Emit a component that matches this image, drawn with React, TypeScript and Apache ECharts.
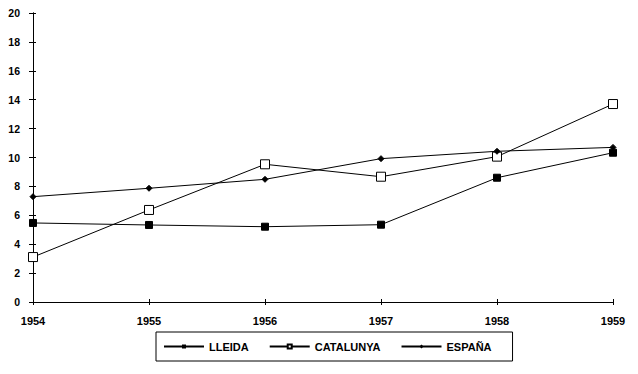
import React, { useEffect, useRef } from "react";
import * as echarts from "echarts";

const years = ["1954", "1955", "1956", "1957", "1958", "1959"];
const lleida = [5.47, 5.33, 5.21, 5.35, 8.6, 10.33];
const catalunya = [3.11, 6.37, 9.53, 8.67, 10.06, 13.7];
const espana = [7.29, 7.87, 8.49, 9.92, 10.43, 10.7];

const FONT = "Liberation Sans";

export default function App() {
  const ref = useRef<HTMLDivElement>(null);
  useEffect(() => {
    if (!ref.current) return;
    const chart = echarts.init(ref.current, null, { renderer: "svg" });
    const labelStyle = { color: "#000", fontFamily: FONT, fontWeight: "bold" as const, fontSize: 11 };
    const baseY = {
      type: "value" as const,
      min: 0,
      max: 20,
      interval: 2,
      splitLine: { show: false },
      axisLine: { show: true, lineStyle: { color: "#000", width: 1 } },
    };
    const baseX = {
      type: "category" as const,
      data: years,
      boundaryGap: false,
      axisLine: { show: true, onZero: false, lineStyle: { color: "#000", width: 1 } },
      splitLine: { show: false },
    };
    chart.setOption({
      animation: false,
      backgroundColor: "#fff",
      grid: { left: 33, right: 25, top: 13, bottom: 72 },
      xAxis: [
        {
          ...baseX,
          axisTick: { show: true, length: 3, lineStyle: { color: "#000" } },
          axisLabel: { ...labelStyle, margin: 13 },
        },
        {
          ...baseX,
          position: "bottom",
          axisTick: { show: true, inside: true, length: 3, lineStyle: { color: "#000" } },
          axisLabel: { show: false },
        },
      ],
      yAxis: [
        {
          ...baseY,
          axisTick: { show: true, length: 4, lineStyle: { color: "#000" } },
          axisLabel: { ...labelStyle, fontSize: 10.5, margin: 13 },
        },
        {
          ...baseY,
          position: "left",
          axisTick: { show: true, inside: true, length: 3, lineStyle: { color: "#000" } },
          axisLabel: { show: false },
        },
      ],
      legend: {
        bottom: 13,
        left: 156,
        padding: [9, 21, 9, 7],
        borderColor: "#000",
        borderWidth: 1,
        itemGap: 20,
        itemWidth: 40,
        itemHeight: 5,
        textStyle: { ...labelStyle },
        data: ["LLEIDA", "CATALUNYA", "ESPAÑA"],
      },
      series: [
        {
          name: "LLEIDA",
          type: "line",
          data: lleida,
          symbol: "rect",
          symbolSize: 7,
          itemStyle: { color: "#000", borderColor: "#000" },
          lineStyle: { color: "#000", width: 1 },
        },
        {
          name: "CATALUNYA",
          type: "line",
          data: catalunya,
          symbol: "rect",
          symbolSize: 9,
          itemStyle: { color: "#fff", borderColor: "#000", borderWidth: 1 },
          lineStyle: { color: "#000", width: 1 },
        },
        {
          name: "ESPAÑA",
          type: "line",
          data: espana,
          symbol: "diamond",
          symbolSize: 6,
          itemStyle: { color: "#000", borderColor: "#000" },
          lineStyle: { color: "#000", width: 1 },
        },
      ],
    });
    return () => chart.dispose();
  }, []);
  return <div ref={ref} style={{ width: 638, height: 374, position: "absolute", left: 0, top: 0 }} />;
}
